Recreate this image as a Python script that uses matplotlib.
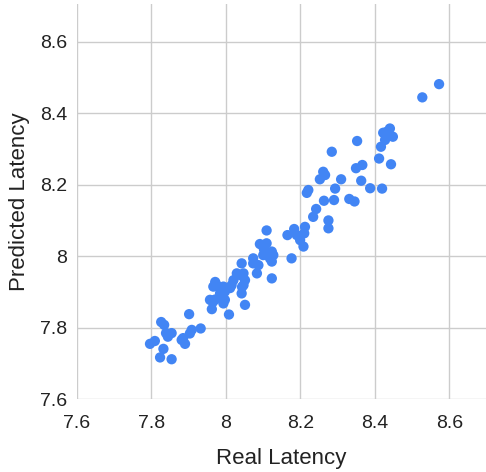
import matplotlib
matplotlib.use("Agg")
import matplotlib.pyplot as plt
from matplotlib.ticker import FuncFormatter

plt.rcParams['font.family'] = ['Liberation Sans', 'DejaVu Sans']

real_latency = [
    7.796, 7.809, 7.832, 7.823, 7.854, 7.826, 7.834, 7.839, 7.854, 7.844,
    7.885, 7.890, 7.881, 7.908, 7.903, 7.932, 7.901, 8.008, 7.962, 7.957,
    7.971, 7.965, 7.993, 7.997, 8.051, 7.984, 7.997, 8.043, 8.042, 7.971,
    7.966, 7.975, 7.993, 8.020, 8.015, 8.011, 8.029, 8.038, 8.047, 8.051,
    8.047, 8.042, 8.073, 8.073, 8.087, 8.083, 8.123, 8.118, 8.123, 8.091,
    8.100, 8.109, 8.102, 8.109, 8.123, 8.127, 8.100, 8.176, 8.183, 8.165,
    8.190, 8.199, 8.208, 8.212, 8.210, 8.221, 8.217, 8.242, 8.234, 8.275,
    8.275, 8.263, 8.290, 8.331, 8.345, 8.293, 8.261, 8.266, 8.252, 8.309,
    8.363, 8.387, 8.419, 8.349, 8.366, 8.284, 8.352, 8.411, 8.443, 8.416,
    8.427, 8.432, 8.440, 8.448, 8.422, 8.527, 8.572,
]
predicted_latency = [
    7.755, 7.763, 7.741, 7.717, 7.712, 7.816, 7.808, 7.785, 7.785, 7.775,
    7.771, 7.755, 7.766, 7.794, 7.784, 7.798, 7.838, 7.837, 7.852, 7.878,
    7.879, 7.872, 7.868, 7.878, 7.864, 7.896, 7.901, 7.914, 7.896, 7.928,
    7.915, 7.919, 7.915, 7.933, 7.919, 7.911, 7.952, 7.947, 7.952, 7.933,
    7.919, 7.980, 7.994, 7.980, 7.975, 7.952, 7.938, 7.994, 7.985, 8.034,
    8.027, 8.036, 8.019, 8.072, 8.013, 8.003, 8.003, 7.994, 8.076, 8.059,
    8.059, 8.045, 8.027, 8.082, 8.064, 8.185, 8.177, 8.132, 8.110, 8.100,
    8.078, 8.155, 8.157, 8.160, 8.153, 8.189, 8.236, 8.227, 8.215, 8.215,
    8.211, 8.190, 8.189, 8.246, 8.255, 8.292, 8.322, 8.273, 8.257, 8.306,
    8.325, 8.348, 8.357, 8.334, 8.345, 8.444, 8.481,
]
tick_values = [7.6, 7.8, 8.0, 8.2, 8.4, 8.6]
x_title = "Real Latency"
y_title = "Predicted Latency"

fig = plt.figure(figsize=(4.86, 4.72), dpi=100)
ax = fig.add_axes([77 / 486, 72.7 / 472, (486 - 77) / 486, (399.3 - 4) / 472])

ax.scatter(real_latency, predicted_latency, s=55, color="#4285F4",
           edgecolors="none", zorder=3, clip_on=False)

ax.set_xlim(7.6, 8.698)
ax.set_ylim(7.6, 8.705)
ax.set_xticks(tick_values)
ax.set_yticks(tick_values)
fmt = FuncFormatter(lambda v, p: "%g" % round(v, 2))
ax.xaxis.set_major_formatter(fmt)
ax.yaxis.set_major_formatter(fmt)

for s in ax.spines.values():
    s.set_visible(False)
ax.grid(True, color="#cccccc", linewidth=1.0, zorder=0)
ax.set_axisbelow(True)
ax.tick_params(axis="both", length=0, labelsize=14, colors="#222222")
ax.tick_params(axis="x", pad=11)
ax.tick_params(axis="y", pad=7)

ax.set_xlabel(x_title, fontsize=16, color="#222222", labelpad=12)
ax.set_ylabel(y_title, fontsize=16, color="#222222", labelpad=7)

fig.savefig("out.png", dpi=100)
